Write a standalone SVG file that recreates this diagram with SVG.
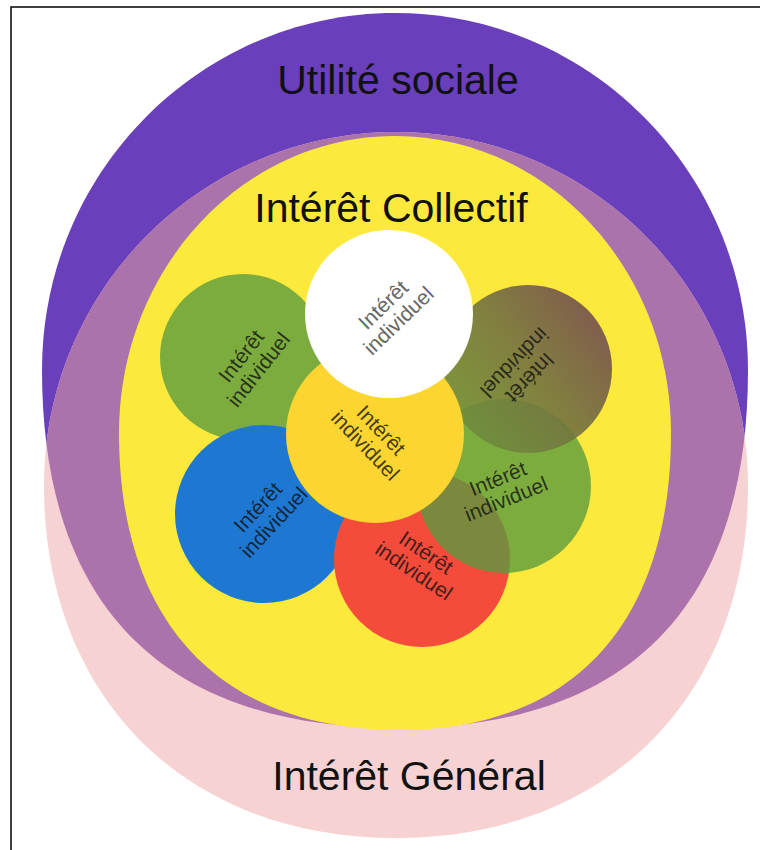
<svg xmlns="http://www.w3.org/2000/svg" width="760" height="850" viewBox="0 0 760 850">
  <style>
    .title { font-family: "Liberation Sans", Arial, sans-serif; font-size: 41px; fill: #111; text-anchor: middle; }
    .lbl { font-family: "Liberation Sans", Arial, sans-serif; font-size: 21px; fill: #111; fill-opacity: 0.8; text-anchor: middle; }
    .lbl-w { fill: #666; fill-opacity: 1; }
  </style>
  <defs>
    <path id="purpleShape" d="M42 370 C42 173 200 13 395 13 C590 13 748 173 748 370 C748 606 629 728 397 728 C163 728 42 606 42 370 Z"/>
    <path id="pinkShape" d="M44 485 C44 290 201.6 132 396 132 C590.4 132 748 290 748 485 C748 697 607 838 396 838 C185 838 44 697 44 485 Z"/>
    <clipPath id="clipPurple">
      <use href="#purpleShape"/>
    </clipPath>
    <linearGradient id="oliveGrad" x1="0.1" y1="0.8" x2="0.9" y2="0.2">
      <stop offset="0" stop-color="#6f8c3c"/>
      <stop offset="0.5" stop-color="#747440"/>
      <stop offset="1" stop-color="#73504e"/>
    </linearGradient>
  </defs>

  <rect width="760" height="850" fill="#ffffff"/>
  <path id="frame" d="M11 850 V7 H760" fill="none" stroke="#000" stroke-width="1.5"/>

  <g id="utilite-sociale">
    <use href="#purpleShape" fill="#6a3fbb"/>
  </g>
  <g id="interet-general">
    <use href="#pinkShape" fill="#f6d2d2"/>
  </g>
  <g id="overlap" clip-path="url(#clipPurple)">
    <use href="#pinkShape" fill="#ab72ac"/>
  </g>
  <g id="interet-collectif">
    <path d="M119 433 C119 269 242.6 136 395 136 C547.4 136 671 269 671 433 C671 623 573 730 400 730 C220 730 119 623 119 433 Z" fill="#fde93c"/>
  </g>

  <text class="title" x="398" y="94">Utilité sociale</text>
  <text class="title" x="391" y="222">Intérêt Collectif</text>
  <text class="title" x="409" y="790">Intérêt Général</text>

  <g id="ind-green-left">
    <circle cx="243" cy="357" r="83" fill="#7cac3e"/>
    <g transform="translate(250 363) rotate(-52)">
      <text class="lbl" y="-4">Intérêt</text>
      <text class="lbl" y="18">individuel</text>
    </g>
  </g>
  <g id="ind-blue">
    <circle cx="264" cy="514" r="89" fill="#1e78d2"/>
    <g transform="translate(266 515) rotate(-47)">
      <text class="lbl" y="-4">Intérêt</text>
      <text class="lbl" y="18">individuel</text>
    </g>
  </g>
  <g id="ind-red">
    <circle cx="422" cy="559" r="88" fill="#f44b3b"/>
    <g transform="translate(420 562) rotate(34)">
      <text class="lbl" y="-4">Intérêt</text>
      <text class="lbl" y="18">individuel</text>
    </g>
  </g>
  <g id="ind-green-right">
    <circle cx="504" cy="486" r="87" fill="#589b3f" fill-opacity="0.78"/>
    <g transform="translate(502 489) rotate(-22)">
      <text class="lbl" y="-4">Intérêt</text>
      <text class="lbl" y="18">individuel</text>
    </g>
  </g>
  <g id="ind-olive">
    <circle cx="528" cy="369" r="84" fill="url(#oliveGrad)" fill-opacity="0.9"/>
    <g transform="translate(522 370) rotate(134)">
      <text class="lbl" y="-4">Intérêt</text>
      <text class="lbl" y="18">individuel</text>
    </g>
  </g>
  <g id="ind-gold">
    <circle cx="375" cy="434" r="89" fill="#fdd531"/>
    <g transform="translate(373 438) rotate(46)">
      <text class="lbl" y="-4">Intérêt</text>
      <text class="lbl" y="18">individuel</text>
    </g>
  </g>
  <g id="ind-white">
    <circle cx="389" cy="314" r="84" fill="#ffffff"/>
    <g transform="translate(391 313) rotate(-44)">
      <text class="lbl lbl-w" y="-4">Intérêt</text>
      <text class="lbl lbl-w" y="18">individuel</text>
    </g>
  </g>

  <g id="connectors"/>
</svg>
